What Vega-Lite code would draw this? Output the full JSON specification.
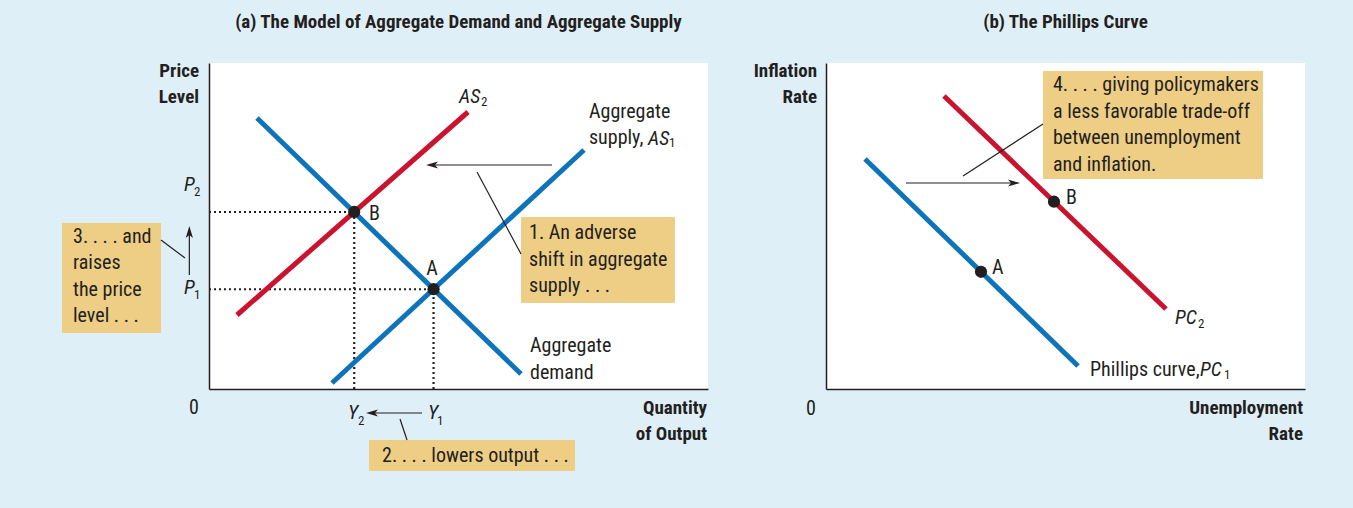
{
  "$schema": "https://vega.github.io/schema/vega-lite/v6.json",
  "background": "#dfeff8",
  "padding": {"left": 61, "top": 12, "right": 49, "bottom": 39},
  "spacing": 118,
  "bounds": "flush",
  "resolve": {"scale": {"color": "independent"}},
  "datasets": {
    "a_curves": [
      {"curve": "AD", "x": 9.62, "y": 83.13}, {"curve": "AD", "x": 62.53, "y": 4.6},
      {"curve": "AS1", "x": 24.65, "y": 1.84}, {"curve": "AS1", "x": 75.15, "y": 73.31},
      {"curve": "AS2", "x": 5.61, "y": 22.7}, {"curve": "AS2", "x": 51.9, "y": 84.97}
    ],
    "a_points": [{"label": "A", "x": 45.0, "y": 30.6}, {"label": "B", "x": 29.1, "y": 54.3}],
    "a_guides": [
      {"x": 0, "y": 54.3, "x2": 29.1, "y2": 54.3},
      {"x": 0, "y": 30.6, "x2": 45.0, "y2": 30.6},
      {"x": 29.1, "y": 0, "x2": 29.1, "y2": 54.3},
      {"x": 45.0, "y": 0, "x2": 45.0, "y2": 30.6}
    ],
    "a_lines": [
      {"x": 68.74, "y": 68.71, "x2": 44.6, "y2": 68.71},
      {"x": 53.71, "y": 66.56, "x2": 62.53, "y2": 41.41},
      {"x": -3.94, "y": 34.97, "x2": -3.94, "y2": 48.5},
      {"x": -9.62, "y": 45.71, "x2": -4.81, "y2": 40.18},
      {"x": 42.69, "y": -7.36, "x2": 32.6, "y2": -7.36},
      {"x": 38.28, "y": -9.2, "x2": 39.68, "y2": -15.64}
    ],
    "a_heads": [
      {"x": 43.49, "y": 68.71, "direction": "left"},
      {"x": -3.94, "y": 50.0, "direction": "up"},
      {"x": 31.46, "y": -7.36, "direction": "left"}
    ],
    "a_boxes": [
      {"x": -29.46, "x2": -9.62, "y": 50.92, "y2": 17.18},
      {"x": 62.53, "x2": 93.39, "y": 52.76, "y2": 26.38},
      {"x": 32.06, "x2": 73.35, "y": -15.64, "y2": -25.15}
    ],
    "a_text_left": [
      {"text": "Aggregate\nsupply,", "x": 76.15, "y": 84.97},
      {"text": "Aggregate\ndemand", "x": 64.33, "y": 13.19},
      {"text": "B", "x": 32.06, "y": 53.68},
      {"text": "3. . . . and\nraises\nthe price\nlevel . . .", "x": -27.25, "y": 46.63},
      {"text": "1. An adverse\nshift in aggregate\nsupply . . .", "x": 64.13, "y": 47.85},
      {"text": "2. . . . lowers output . . .", "x": 34.67, "y": -20.55}
    ],
    "a_text_center": [
      {"text": "A", "x": 44.69, "y": 36.81},
      {"text": "0", "x": -3.0, "y": -5.83}
    ],
    "a_italic": [
      {"text": "AS", "x": 50.1, "y": 89.57},
      {"text": "AS", "x": 87.98, "y": 76.69},
      {"text": "P", "x": -5.01, "y": 62.58},
      {"text": "P", "x": -5.01, "y": 30.98},
      {"text": "Y", "x": 27.86, "y": -7.36},
      {"text": "Y", "x": 43.89, "y": -7.36}
    ],
    "a_sub": [
      {"text": "2", "x": 54.5, "y": 88.04},
      {"text": "1", "x": 92.2, "y": 75.46},
      {"text": "2", "x": -3.01, "y": 60.43},
      {"text": "1", "x": -3.01, "y": 28.83},
      {"text": "2", "x": 29.86, "y": -9.82},
      {"text": "1", "x": 45.69, "y": -9.82}
    ],
    "a_bold_right": [
      {"text": "Price\nLevel", "x": -2.0, "y": 97.55},
      {"text": "Quantity\nof Output", "x": 99.8, "y": -5.83}
    ],
    "b_curves": [
      {"curve": "PC1", "x": 8.14, "y": 70.55}, {"curve": "PC1", "x": 52.61, "y": 7.06},
      {"curve": "PC2", "x": 24.63, "y": 89.88}, {"curve": "PC2", "x": 70.98, "y": 24.54}
    ],
    "b_points": [{"label": "A", "x": 32.36, "y": 35.96}, {"label": "B", "x": 47.6, "y": 57.45}],
    "b_lines": [
      {"x": 16.7, "y": 63.19, "x2": 39.5, "y2": 63.19},
      {"x": 28.6, "y": 65.34, "x2": 45.3, "y2": 81.29}
    ],
    "b_heads": [{"x": 40.5, "y": 63.19, "direction": "right"}],
    "b_boxes": [{"x": 45.3, "x2": 91.23, "y": 97.55, "y2": 64.42}],
    "b_text_left": [
      {"text": "B", "x": 50.1, "y": 58.6},
      {"text": "A", "x": 34.66, "y": 37.12},
      {"text": "4. . . . giving policymakers\na less favorable trade-off\nbetween unemployment\nand inflation.", "x": 47.39, "y": 93.25},
      {"text": "Phillips curve,", "x": 55.11, "y": 5.83}
    ],
    "b_text_center": [{"text": "0", "x": -3.13, "y": -6.13}],
    "b_italic": [
      {"text": "PC", "x": 78.08, "y": 5.83},
      {"text": "PC", "x": 72.86, "y": 21.78}
    ],
    "b_sub": [
      {"text": "2", "x": 77.66, "y": 19.94},
      {"text": "1", "x": 83.09, "y": 4.29}
    ],
    "b_bold_right": [
      {"text": "Inflation\nRate", "x": -1.88, "y": 97.55},
      {"text": "Unemployment\nRate", "x": 99.58, "y": -5.83}
    ]
  },
  "hconcat": [
    {
      "title": {"text": "(a) The Model of Aggregate Demand and Aggregate Supply", "offset": 30},
      "width": 499,
      "height": 326,
      "encoding": {
        "x": {"field": "x", "type": "quantitative", "scale": {"domain": [0, 100], "nice": false, "zero": false}, "axis": {"title": null}},
        "y": {"field": "y", "type": "quantitative", "scale": {"domain": [0, 100], "nice": false, "zero": false}, "axis": {"title": null}}
      },
      "layer": [
        {"data": {"name": "a_boxes"}, "mark": {"type": "rect", "color": "#eecd85"}, "encoding": {"x2": {"field": "x2"}, "y2": {"field": "y2"}}},
        {"data": {"name": "a_guides"}, "mark": {"type": "rule", "color": "#231f20", "strokeWidth": 2.2, "strokeDash": [2, 3]}, "encoding": {"x2": {"field": "x2"}, "y2": {"field": "y2"}}},
        {"data": {"name": "a_curves"}, "mark": {"type": "line", "strokeWidth": 5}, "encoding": {"color": {"field": "curve", "type": "nominal", "scale": {"domain": ["AD", "AS1", "AS2"], "range": ["#0d74bb", "#0d74bb", "#c9132f"]}, "legend": null}}},
        {"data": {"name": "a_lines"}, "mark": {"type": "rule", "color": "#231f20", "strokeWidth": 1.2}, "encoding": {"x2": {"field": "x2"}, "y2": {"field": "y2"}}},
        {"data": {"name": "a_heads"}, "transform": [{"filter": "datum.direction == 'left'"}], "mark": {"type": "point", "shape": "M0,0L-1,-0.3L-0.75,0L-1,0.3Z", "filled": true, "size": 576, "angle": 180, "color": "#231f20", "opacity": 1, "strokeWidth": 0}},
        {"data": {"name": "a_heads"}, "transform": [{"filter": "datum.direction == 'up'"}], "mark": {"type": "point", "shape": "M0,0L-1,-0.3L-0.75,0L-1,0.3Z", "filled": true, "size": 576, "angle": 270, "color": "#231f20", "opacity": 1, "strokeWidth": 0}},
        {"data": {"name": "a_points"}, "mark": {"type": "circle", "size": 150, "color": "#231f20", "opacity": 1}},
        {"data": {"name": "a_text_left"}, "mark": {"type": "text", "align": "left", "baseline": "middle", "fontSize": 20, "lineHeight": 26.5, "lineBreak": "\n", "color": "#231f20"}, "encoding": {"text": {"field": "text"}}},
        {"data": {"name": "a_text_center"}, "mark": {"type": "text", "align": "center", "baseline": "middle", "fontSize": 20, "color": "#231f20"}, "encoding": {"text": {"field": "text"}}},
        {"data": {"name": "a_italic"}, "mark": {"type": "text", "align": "left", "baseline": "middle", "fontSize": 20, "fontStyle": "italic", "color": "#231f20"}, "encoding": {"text": {"field": "text"}}},
        {"data": {"name": "a_sub"}, "mark": {"type": "text", "align": "left", "baseline": "middle", "fontSize": 13, "color": "#231f20"}, "encoding": {"text": {"field": "text"}}},
        {"data": {"name": "a_bold_right"}, "mark": {"type": "text", "align": "right", "baseline": "middle", "fontSize": 19, "fontWeight": "bold", "lineHeight": 26, "lineBreak": "\n", "color": "#231f20"}, "encoding": {"text": {"field": "text"}}}
      ]
    },
    {
      "title": {"text": "(b) The Phillips Curve", "offset": 30},
      "width": 479,
      "height": 326,
      "encoding": {
        "x": {"field": "x", "type": "quantitative", "scale": {"domain": [0, 100], "nice": false, "zero": false}, "axis": {"title": null}},
        "y": {"field": "y", "type": "quantitative", "scale": {"domain": [0, 100], "nice": false, "zero": false}, "axis": {"title": null}}
      },
      "layer": [
        {"data": {"name": "b_boxes"}, "mark": {"type": "rect", "color": "#eecd85"}, "encoding": {"x2": {"field": "x2"}, "y2": {"field": "y2"}}},
        {"data": {"name": "b_curves"}, "mark": {"type": "line", "strokeWidth": 5}, "encoding": {"color": {"field": "curve", "type": "nominal", "scale": {"domain": ["PC1", "PC2"], "range": ["#0d74bb", "#c9132f"]}, "legend": null}}},
        {"data": {"name": "b_lines"}, "mark": {"type": "rule", "color": "#231f20", "strokeWidth": 1.2}, "encoding": {"x2": {"field": "x2"}, "y2": {"field": "y2"}}},
        {"data": {"name": "b_heads"}, "transform": [{"filter": "datum.direction == 'right'"}], "mark": {"type": "point", "shape": "M0,0L-1,-0.3L-0.75,0L-1,0.3Z", "filled": true, "size": 576, "angle": 0, "color": "#231f20", "opacity": 1, "strokeWidth": 0}},
        {"data": {"name": "b_points"}, "mark": {"type": "circle", "size": 150, "color": "#231f20", "opacity": 1}},
        {"data": {"name": "b_text_left"}, "mark": {"type": "text", "align": "left", "baseline": "middle", "fontSize": 20, "lineHeight": 26.5, "lineBreak": "\n", "color": "#231f20"}, "encoding": {"text": {"field": "text"}}},
        {"data": {"name": "b_text_center"}, "mark": {"type": "text", "align": "center", "baseline": "middle", "fontSize": 20, "color": "#231f20"}, "encoding": {"text": {"field": "text"}}},
        {"data": {"name": "b_italic"}, "mark": {"type": "text", "align": "left", "baseline": "middle", "fontSize": 20, "fontStyle": "italic", "color": "#231f20"}, "encoding": {"text": {"field": "text"}}},
        {"data": {"name": "b_sub"}, "mark": {"type": "text", "align": "left", "baseline": "middle", "fontSize": 13, "color": "#231f20"}, "encoding": {"text": {"field": "text"}}},
        {"data": {"name": "b_bold_right"}, "mark": {"type": "text", "align": "right", "baseline": "middle", "fontSize": 19, "fontWeight": "bold", "lineHeight": 26, "lineBreak": "\n", "color": "#231f20"}, "encoding": {"text": {"field": "text"}}}
      ]
    }
  ],
  "config": {
    "font": "Liberation Sans Narrow, Roboto Condensed, DejaVu Sans Condensed, Arial Narrow, sans-serif",
    "view": {"stroke": null, "fill": "white"},
    "axis": {"domain": true, "domainColor": "#231f20", "domainWidth": 1.5, "ticks": false, "labels": false, "grid": false},
    "title": {"fontSize": 19, "fontWeight": "bold", "color": "#231f20", "anchor": "middle"},
    "text": {"font": "Liberation Sans Narrow, Roboto Condensed, DejaVu Sans Condensed, Arial Narrow, sans-serif"}
  }
}
